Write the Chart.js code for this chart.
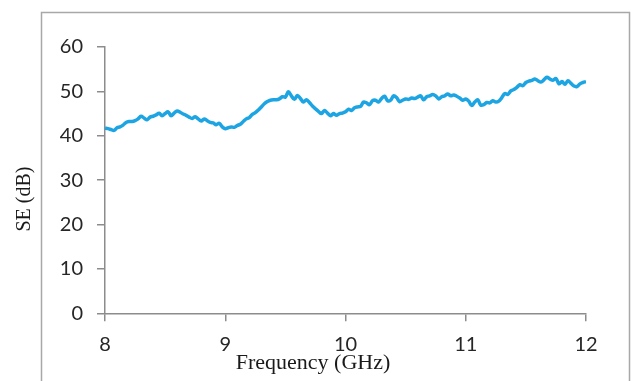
<!DOCTYPE html>
<html>
<head>
<meta charset="utf-8">
<script src="https://cdn.jsdelivr.net/npm/chart.js@4"></script>
<style>
html,body{margin:0;padding:0;background:#fff;}
#wrap{width:631px;height:381px;position:relative;}
</style>
</head>
<body>
<div id="wrap"><canvas id="c" width="631" height="381"></canvas></div>
<script>
// Frequency grid (GHz) and shielding effectiveness values (dB)
const freqStart = 8;
const freqStep = 0.025;
const seValues = [
  41.7,41.6,41.4,41.2,41.8,42.0,42.4,43.0,43.2,43.2,
  43.4,43.8,44.4,44.0,43.6,44.2,44.4,44.7,45.1,44.5,
  45.0,45.4,44.5,45.1,45.6,45.3,44.9,44.6,44.2,43.9,
  44.3,43.8,43.3,43.8,43.4,43.0,42.9,42.5,42.8,42.0,
  41.6,41.8,42.0,41.9,42.3,42.6,43.2,43.8,44.1,44.8,
  45.2,45.8,46.5,47.2,47.7,48.0,48.1,48.1,48.3,48.8,
  48.7,49.9,49.0,48.2,49.1,48.4,47.6,48.1,47.5,46.7,
  46.1,45.5,45.0,45.7,45.1,44.5,45.0,44.6,45.0,45.1,
  45.4,46.0,45.7,46.3,46.5,46.6,47.6,47.4,47.0,47.9,
  48.0,47.6,48.4,48.9,47.9,48.0,49.0,48.6,47.7,48.0,
  48.3,48.2,48.5,48.4,48.7,49.0,48.1,48.8,49.0,49.3,
  49.0,48.3,48.8,49.0,49.4,49.0,49.2,48.9,48.5,48.0,
  48.3,47.8,46.8,47.6,48.1,46.9,47.0,47.5,47.4,47.9,
  47.6,47.8,48.6,49.5,49.3,50.1,50.4,50.9,51.5,51.3,
  52.0,52.3,52.5,52.8,52.4,52.1,52.6,53.2,52.8,52.5,
  52.9,51.7,52.2,51.6,52.4,51.8,51.2,51.1,51.7,52.0,
  52.2
];
const xTicks = [8, 9, 10, 11, 12];
const yTicks = [0, 10, 20, 30, 40, 50, 60];
const xTitle = 'Frequency (GHz)';
const yTitle = 'SE (dB)';

const points = seValues.map((v, i) => ({ x: freqStart + i * freqStep, y: v }));

const axisColor = '#8c8c8c';
const tickFont = { family: 'Lato, "Open Sans", sans-serif', size: 20 };

const frameAndTitles = {
  id: 'frameAndTitles',
  beforeDraw(chart) {
    const ctx = chart.ctx;
    ctx.save();
    ctx.fillStyle = '#fff';
    ctx.fillRect(0, 0, chart.width, chart.height);
    ctx.strokeStyle = '#a8a8a8';
    ctx.lineWidth = 1.5;
    ctx.beginPath();
    ctx.moveTo(41.5, 400);
    ctx.lineTo(41.5, 12.5);
    ctx.lineTo(629.5, 12.5);
    ctx.lineTo(629.5, 400);
    ctx.stroke();
    ctx.restore();
  },
  afterDraw(chart) {
    const ctx = chart.ctx;
    ctx.save();
    ctx.fillStyle = '#1a1a1a';
    ctx.font = '22px "Liberation Serif", "Times New Roman", serif';
    ctx.textAlign = 'center';
    ctx.textBaseline = 'middle';
    ctx.fillText(xTitle, 313, 363);
    ctx.translate(25, 199);
    ctx.rotate(-Math.PI / 2);
    ctx.font = '20px "Liberation Serif", "Times New Roman", serif';
    ctx.fillText(yTitle, 0, 0);
    ctx.restore();
  }
};

new Chart(document.getElementById('c'), {
  type: 'line',
  data: {
    datasets: [{
      data: points,
      borderColor: 'rgb(28,165,226)',
      borderWidth: 3.5,
      pointRadius: 0,
      tension: 0.35,
      fill: false
    }]
  },
  options: {
    responsive: false,
    animation: false,
    devicePixelRatio: 1,
    layout: { padding: { left: 0, right: 45, top: 47, bottom: 0 } },
    plugins: { legend: { display: false }, tooltip: { enabled: false } },
    scales: {
      x: {
        type: 'linear',
        min: xTicks[0],
        max: xTicks[xTicks.length - 1],
        afterBuildTicks(scale) { scale.ticks = xTicks.map(v => ({ value: v })); },
        afterFit(scale) { scale.height = 381 - 313.3; },
        grid: { drawOnChartArea: false, drawTicks: true, tickLength: 8, color: axisColor, lineWidth: 1.5 },
        border: { color: axisColor, width: 1.5 },
        ticks: { font: tickFont, color: '#262626', padding: 11, maxRotation: 0 }
      },
      y: {
        min: yTicks[0],
        max: yTicks[yTicks.length - 1],
        afterBuildTicks(scale) { scale.ticks = yTicks.map(v => ({ value: v })); },
        afterFit(scale) { scale.width = 105; },
        grid: { drawOnChartArea: false, drawTicks: true, tickLength: 8, color: axisColor, lineWidth: 1.5 },
        border: { color: axisColor, width: 1.5 },
        ticks: { font: tickFont, color: '#262626', padding: 14 }
      }
    }
  },
  plugins: [frameAndTitles]
});
</script>
</body>
</html>
